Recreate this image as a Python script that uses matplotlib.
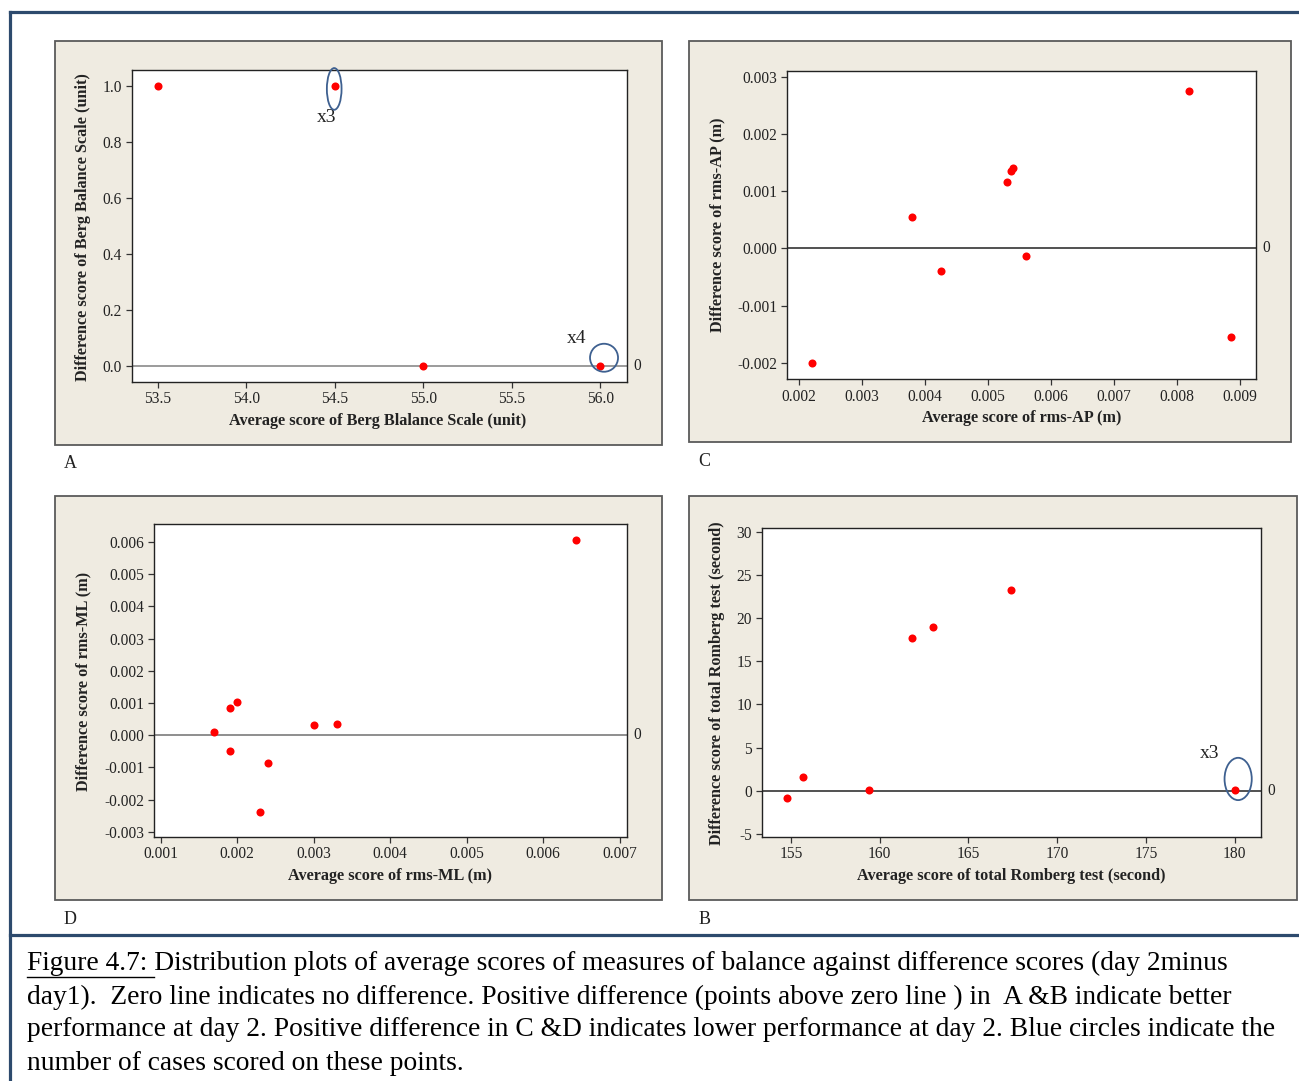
import matplotlib
matplotlib.use("Agg")
import matplotlib.pyplot as plt
from matplotlib.patches import Rectangle, Ellipse
from matplotlib.lines import Line2D
from matplotlib.ticker import FuncFormatter, FixedLocator
import matplotlib.transforms as mtransforms

plt.rcParams['font.family'] = ['Liberation Serif', 'DejaVu Serif']
plt.rcParams['axes.unicode_minus'] = False

# ---------------- data ----------------
# Panel A: Berg Balance Scale
a_avg = [53.5, 54.5, 55.0, 56.0]
a_diff = [1.0, 1.0, 0.0, 0.0]
a_xticks = [53.5, 54.0, 54.5, 55.0, 55.5, 56.0]
a_yticks = [0.0, 0.2, 0.4, 0.6, 0.8, 1.0]

# Panel C: rms-AP
c_avg = [0.0022, 0.0038, 0.00425, 0.0053, 0.00536, 0.0054, 0.0056, 0.0082, 0.00886]
c_diff = [-0.0020, 0.00055, -0.0004, 0.00116, 0.00136, 0.0014, -0.00014, 0.00275, -0.00155]
c_xticks = [0.002, 0.003, 0.004, 0.005, 0.006, 0.007, 0.008, 0.009]
c_yticks = [-0.002, -0.001, 0.000, 0.001, 0.002, 0.003]

# Panel D: rms-ML
d_avg = [0.0017, 0.0019, 0.0020, 0.0019, 0.0024, 0.0023, 0.0030, 0.0033, 0.00643]
d_diff = [0.0001, 0.00083, 0.00103, -0.00049, -0.00088, -0.0024, 0.00033, 0.00036, 0.00606]
d_xticks = [0.001, 0.002, 0.003, 0.004, 0.005, 0.006, 0.007]
d_yticks = [-0.003, -0.002, -0.001, 0.000, 0.001, 0.002, 0.003, 0.004, 0.005, 0.006]

# Panel B: total Romberg test
b_avg = [154.8, 155.7, 159.4, 161.8, 163.0, 167.4, 180.0]
b_diff = [-0.85, 1.6, 0.1, 17.7, 19.0, 23.3, 0.1]
b_xticks = [155, 160, 165, 170, 175, 180]
b_yticks = [-5, 0, 5, 10, 15, 20, 25, 30]

# multiplicity annotations: (panel, x, y, label)
multi = [("A", 54.5, 1.0, "x3"), ("A", 56.0, 0.0, "x4"), ("B", 180.0, 0.1, "x3")]

caption_lines = [
    "Figure 4.7: Distribution plots of average scores of measures of balance against difference scores (day 2minus",
    "day1).  Zero line indicates no difference. Positive difference (points above zero line ) in  A &B indicate better",
    "performance at day 2. Positive difference in C &D indicates lower performance at day 2. Blue circles indicate the",
    "number of cases scored on these points.",
]

# ---------------- layout ----------------
W, H = 1299, 1081
fig = plt.figure(figsize=(W / 100, H / 100), dpi=100)
fig.patch.set_facecolor("white")

def fx(x):
    return x / W

def fy(y):
    return 1 - y / H

def rect(x0, y0, x1, y1):
    return [fx(x0), fy(y1), (x1 - x0) / W, (y1 - y0) / H]

TICK_FS = 11.2
LAB_FS = 11.7
CAP_FS = 19.8

# blue frame
frame_c = "#2d4a6d"
for (xs, ys) in [([10, W], [12, 12]), ([10, 10], [12, H]), ([10, W], [935, 935])]:
    fig.add_artist(Line2D([fx(v) for v in xs], [fy(v) for v in ys], color=frame_c, lw=2.3,
                          transform=fig.transFigure))

panels = {
    "A": dict(box=(55, 41, 662, 445), area=(131.7, 69.7, 627, 381.7),
              xlim=(53.354, 56.15), ylim=(-0.057, 1.058), x=a_avg, y=a_diff,
              xt=a_xticks, yt=a_yticks, xf="{:.1f}", yf="{:.1f}",
              xl="Average score of Berg Blalance Scale (unit)", xlpos=(378, 421),
              yl="Difference score of Berg Balance Scale (unit)", ylpos=(83, 227),
              letter=(70, 463), zc="#808080"),
    "C": dict(box=(689, 41, 1291, 442), area=(787.4, 71, 1256.4, 379),
              xlim=(0.001813, 0.009264), ylim=(-0.002285, 0.0031), x=c_avg, y=c_diff,
              xt=c_xticks, yt=c_yticks, xf="{:.3f}", yf="{:.3f}",
              xl="Average score of rms-AP (m)", xlpos=(1021.5, 418),
              yl="Difference score of rms-AP (m)", ylpos=(717, 225),
              letter=(704.5, 461.7), zc="#222222"),
    "D": dict(box=(55, 496, 662, 900), area=(154, 524.3, 627.2, 836.7),
              xlim=(0.000912, 0.0071), ylim=(-0.003155, 0.00655), x=d_avg, y=d_diff,
              xt=d_xticks, yt=d_yticks, xf="{:.3f}", yf="{:.3f}",
              xl="Average score of rms-ML (m)", xlpos=(389.5, 876.5),
              yl="Difference score of rms-ML (m)", ylpos=(83, 681),
              letter=(70.5, 920), zc="#707070"),
    "B": dict(box=(689, 496, 1297, 900), area=(761.7, 527.7, 1261.1, 836.7),
              xlim=(153.36, 181.49), ylim=(-5.31, 30.46), x=b_avg, y=b_diff,
              xt=b_xticks, yt=b_yticks, xf="{:.0f}", yf="{:.0f}",
              xl="Average score of total Romberg test (second)", xlpos=(1010.8, 876),
              yl="Difference score of total Romberg test (second)", ylpos=(717, 683),
              letter=(704.5, 920), zc="#222222"),
}

# ellipse styles (pixel offsets / sizes) keyed by annotation index
ell_style = [
    dict(dx=-0.5, dy=-3, w=14.7, h=41.7, tx=-8, ty=-32),
    dict(dx=3.6, dy=8, w=28, h=28, tx=-24, ty=27),
    dict(dx=3.5, dy=11, w=27.2, h=42.3, tx=-25, ty=36),
]

axes = {}
for key, p in panels.items():
    x0, y0, x1, y1 = p["box"]
    fig.add_artist(Rectangle((fx(x0), fy(y1)), (x1 - x0) / W, (y1 - y0) / H,
                             transform=fig.transFigure, facecolor="#efebe1",
                             edgecolor="#5a5a5a", lw=1.3, zorder=0))
    ax = fig.add_axes(rect(*p["area"]))
    axes[key] = ax
    ax.set_facecolor("white")
    ax.set_xlim(*p["xlim"])
    ax.set_ylim(*p["ylim"])
    ax.xaxis.set_major_locator(FixedLocator(p["xt"]))
    ax.yaxis.set_major_locator(FixedLocator(p["yt"]))
    xf, yf = p["xf"], p["yf"]
    ax.xaxis.set_major_formatter(FuncFormatter(lambda v, pos, f=xf: f.format(v)))
    ax.yaxis.set_major_formatter(FuncFormatter(lambda v, pos, f=yf: f.format(v)))
    ax.tick_params(direction="out", length=4, width=0.9, colors="#333333",
                   labelsize=TICK_FS, labelcolor="#222222", pad=3)
    for s in ax.spines.values():
        s.set_color("#222222")
        s.set_linewidth(1.0)
    ax.axhline(0, color=p["zc"], lw=1.1, zorder=1)
    ax.annotate("0", xy=(1, 0), xycoords=("axes fraction", "data"), xytext=(6, 0),
                textcoords="offset pixels", ha="left", va="center", fontsize=TICK_FS,
                color="#222222", annotation_clip=False)
    ax.plot(p["x"], p["y"], "o", color="#ff0000", markersize=5.8, markeredgewidth=0,
            zorder=3, clip_on=False)
    fig.text(fx(p["xlpos"][0]), fy(p["xlpos"][1]), p["xl"], ha="center", va="center",
             fontsize=LAB_FS, fontweight="bold", color="#222222")
    fig.text(fx(p["ylpos"][0]), fy(p["ylpos"][1]), p["yl"], ha="center", va="center",
             rotation=90, fontsize=LAB_FS, fontweight="bold", color="#222222")
    fig.text(fx(p["letter"][0]), fy(p["letter"][1]), key, ha="center", va="center",
             fontsize=13, color="#222222")

for (panel, xv, yv, lab), st in zip(multi, ell_style):
    ax = axes[panel]
    tr = mtransforms.Affine2D().translate(st["dx"], st["dy"]) + \
        mtransforms.ScaledTranslation(xv, yv, ax.transData)
    e = Ellipse((0, 0), st["w"], st["h"], transform=tr, fill=False,
                edgecolor="#3e6090", lw=1.3, zorder=4, clip_on=False)
    ax.add_artist(e)
    ax.annotate(lab, xy=(xv, yv), xytext=(st["tx"], st["ty"]), textcoords="offset pixels",
                ha="center", va="center", fontsize=14, color="#222222",
                annotation_clip=False)

# caption
cap_y = [963, 997, 1030, 1063]
for line, yy in zip(caption_lines, cap_y):
    fig.text(fx(27), fy(yy), line, ha="left", va="center", fontsize=CAP_FS, color="black")

fig.canvas.draw()
r = fig.canvas.get_renderer()
tmp = fig.text(fx(27), fy(963), "Figure 4.7: ", ha="left", va="center", fontsize=CAP_FS)
bb = tmp.get_window_extent(renderer=r)
tmp.remove()
fig.add_artist(Line2D([bb.x0 / W, bb.x1 / W], [fy(977), fy(977)], color="black", lw=1.0,
                      transform=fig.transFigure))

fig.savefig("out.png", dpi=100, facecolor="white")
